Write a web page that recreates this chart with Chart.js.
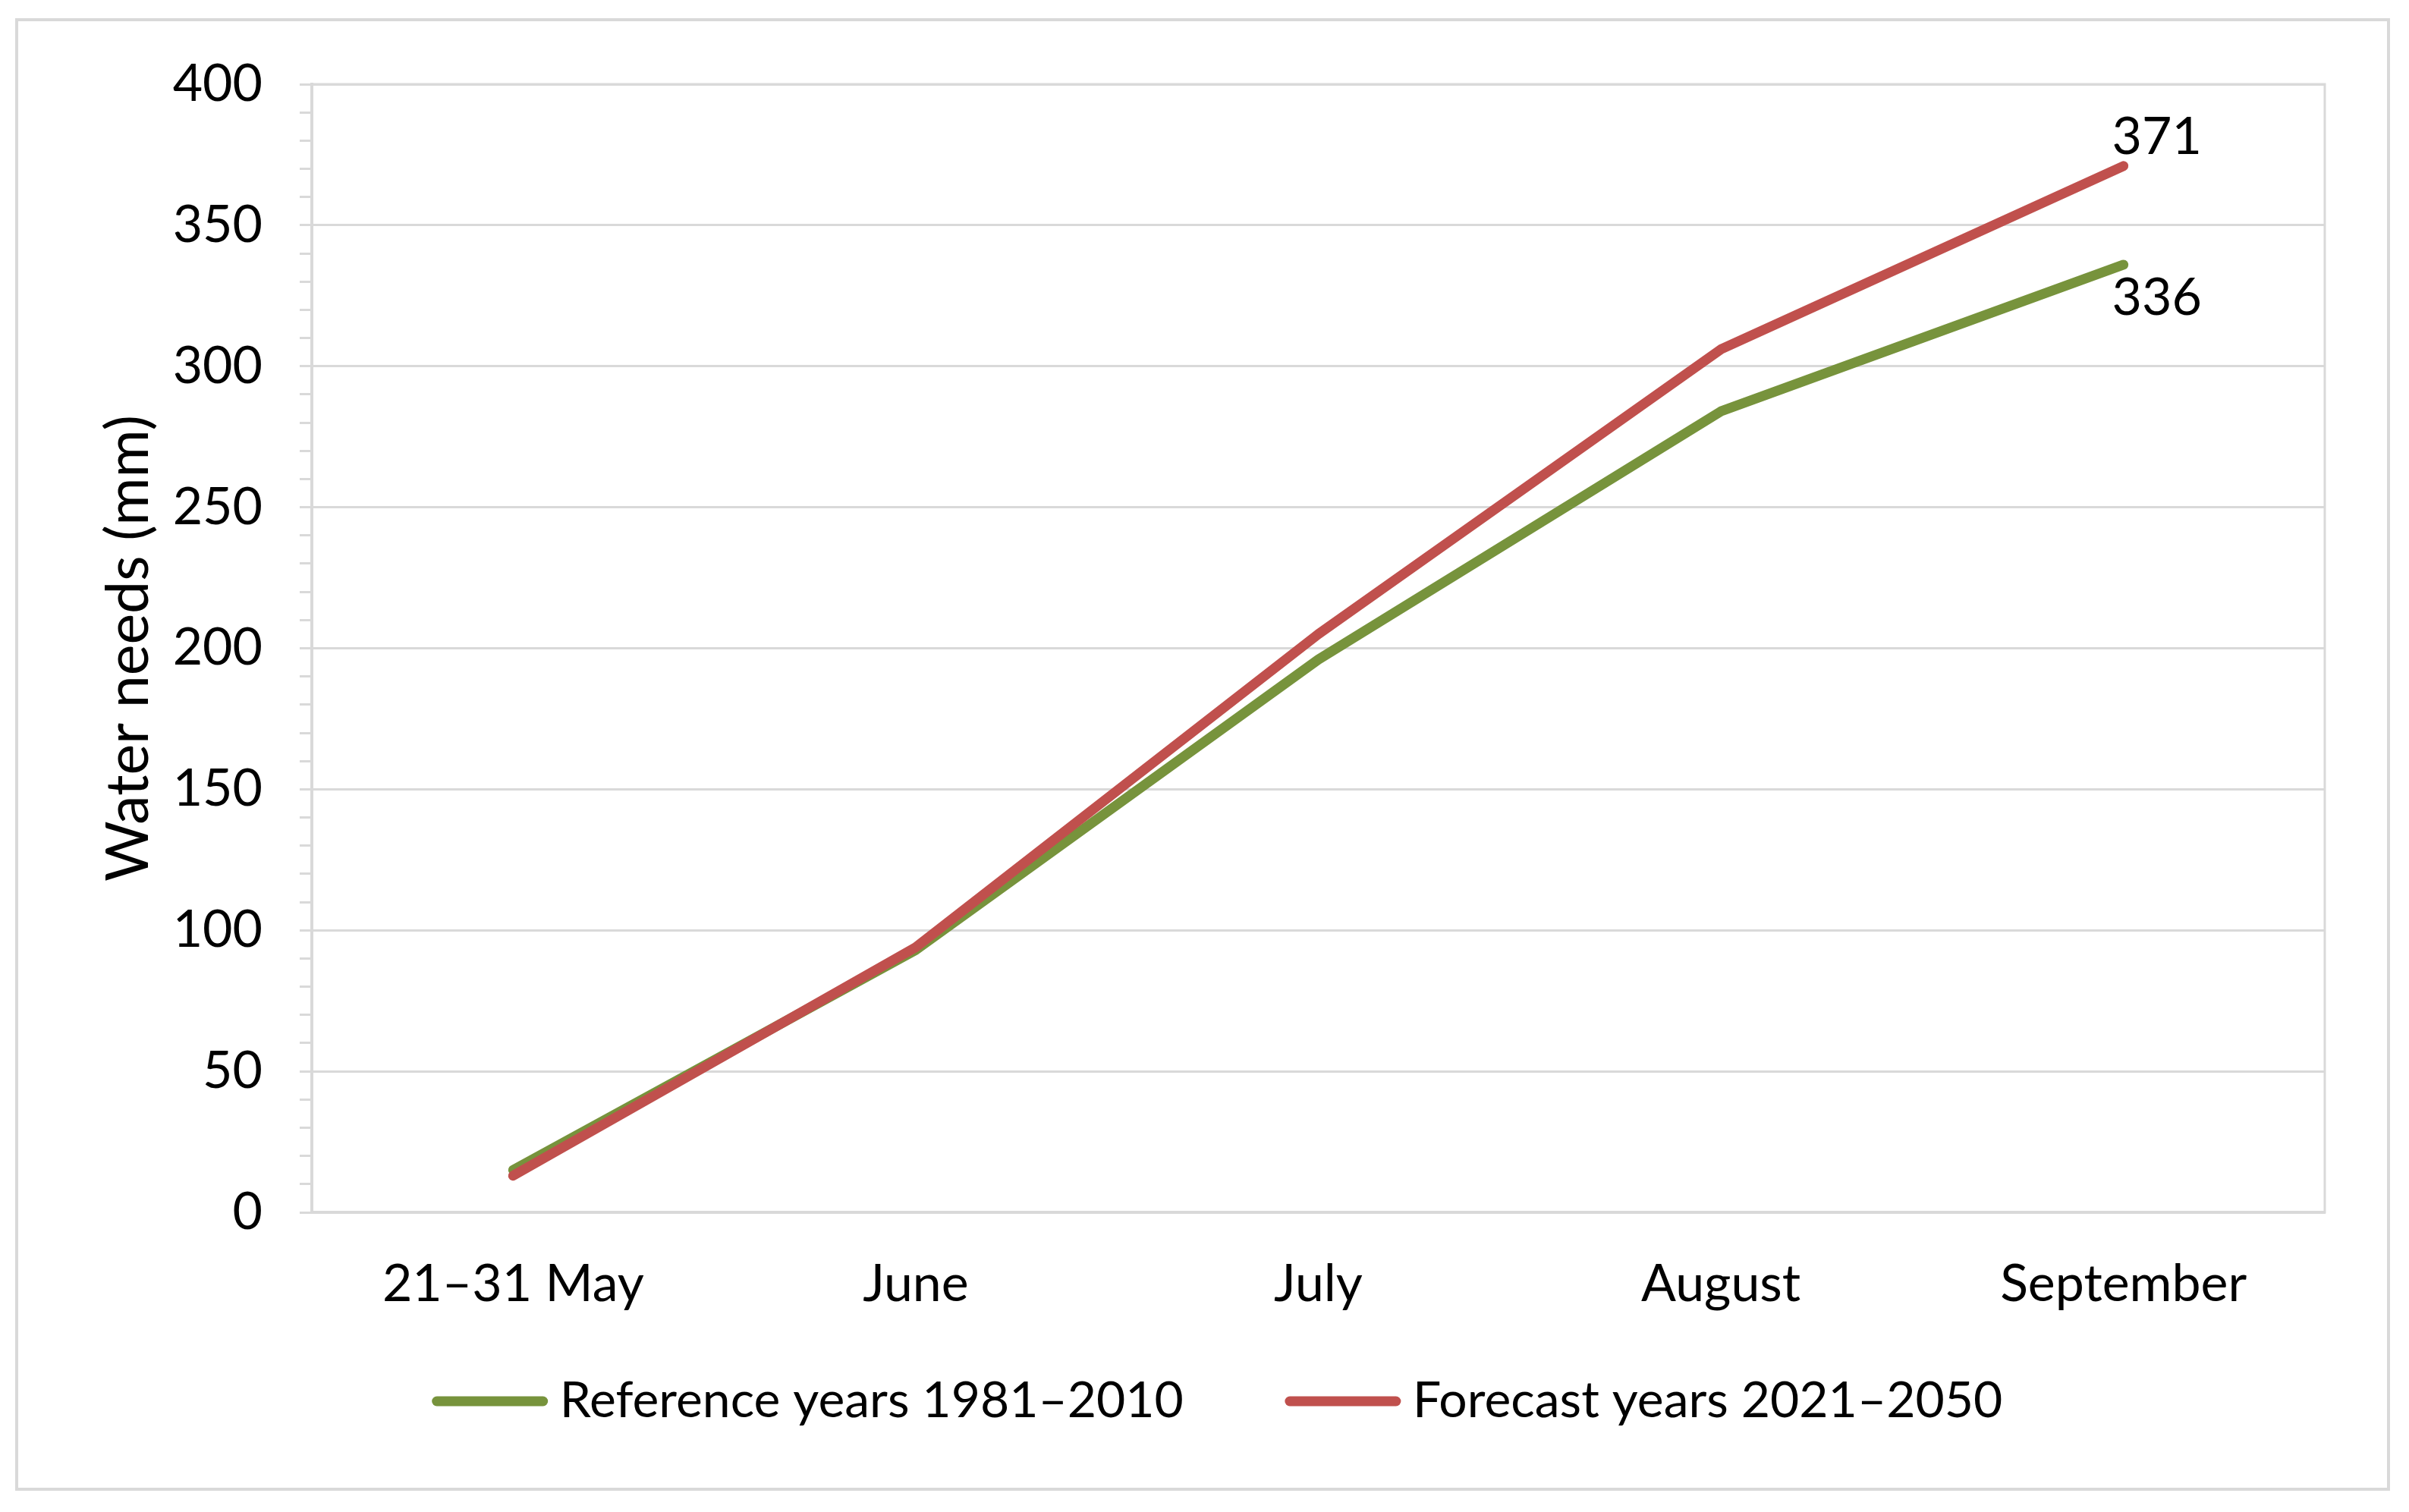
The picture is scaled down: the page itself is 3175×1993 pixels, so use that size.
<!DOCTYPE html>
<html>
<head>
<meta charset="utf-8">
<script src="https://cdn.jsdelivr.net/npm/chart.js@4.4.1/dist/chart.umd.min.js"></script>
<style>
  html, body { margin: 0; padding: 0; background: #fff; }
  #wrap { position: relative; width: 3175px; height: 1993px; }
  #frame { position: absolute; left: 20px; top: 24px; width: 3122px; height: 1933px;
           border: 4px solid #d9d9d9; pointer-events: none; }
</style>
</head>
<body>
<div id="wrap">
  <canvas id="chart"></canvas>
  <div id="frame"></div>
</div>
<script>
/* Water needs per period, mm */
const periods = ['21–31 May', 'June', 'July', 'August', 'September'];
const referenceYears = [15, 93, 196, 284, 336];
const forecastYears = [13, 94, 205, 306, 371];
const seriesNames = ['Reference years 1981–2010', 'Forecast years 2021–2050'];
const yMin = 0, yMax = 400, yMajor = 50, yMinor = 10;

const GREEN = '#77933C', RED = '#C0504D', GRID = '#d9d9d9';
const FONT = 'Lato, "Open Sans", sans-serif';
Chart.defaults.font.family = FONT;
Chart.defaults.color = '#000';

/* plot-area frame, end-of-line value labels, Excel-style legend */
const extras = {
  id: 'extras',
  beforeDatasetsDraw(chart) {
    const { ctx, chartArea: a } = chart;
    ctx.save();
    ctx.strokeStyle = GRID;
    ctx.lineWidth = 3;
    ctx.strokeRect(a.left, a.top, a.right - a.left, a.bottom - a.top);
    ctx.restore();
  },
  afterDatasetsDraw(chart) {
    const { ctx } = chart;
    ctx.save();
    ctx.font = '68px ' + FONT;
    ctx.fillStyle = '#000';
    ctx.textAlign = 'center';
    ctx.textBaseline = 'middle';
    chart.data.datasets.forEach((ds, i) => {
      const pts = chart.getDatasetMeta(i).data;
      const p = pts[pts.length - 1];
      const dy = i === 1 ? -38 : 44;
      ctx.fillText(String(ds.data[ds.data.length - 1]), p.x + 44, p.y + dy);
    });
    ctx.restore();
  },
  afterDraw(chart) {
    const { ctx } = chart;
    const sample = 152, gapText = 16, gapItem = 134, y = 1847;
    ctx.save();
    ctx.font = '66px ' + FONT;
    ctx.textBaseline = 'middle';
    ctx.textAlign = 'left';
    const items = chart.data.datasets.map(ds => ({ text: ds.label, color: ds.borderColor, w: ctx.measureText(ds.label).width }));
    const total = items.reduce((s, it) => s + sample + gapText + it.w, 0) + gapItem * (items.length - 1);
    let x = chart.width / 2 - total / 2 + 17;
    items.forEach(it => {
      ctx.strokeStyle = it.color;
      ctx.lineWidth = 13;
      ctx.lineCap = 'round';
      ctx.beginPath();
      ctx.moveTo(x + 6, y);
      ctx.lineTo(x + sample - 6, y);
      ctx.stroke();
      ctx.fillStyle = '#000';
      ctx.fillText(it.text, x + sample + gapText, y);
      x += sample + gapText + it.w + gapItem;
    });
    ctx.restore();
  }
};

new Chart(document.getElementById('chart'), {
  type: 'line',
  data: {
    labels: periods,
    datasets: [
      { label: seriesNames[0], data: referenceYears, borderColor: GREEN, backgroundColor: GREEN, order: 1 },
      { label: seriesNames[1], data: forecastYears, borderColor: RED, backgroundColor: RED, order: 0 },
    ]
  },
  options: {
    responsive: true,
    maintainAspectRatio: false,
    devicePixelRatio: 1,
    animation: false,
    elements: {
      line: { borderWidth: 13, tension: 0, borderCapStyle: 'round', borderJoinStyle: 'round' },
      point: { radius: 0, hoverRadius: 0 }
    },
    layout: { padding: { left: 0, top: 111, right: 111, bottom: 235 } },
    plugins: {
      legend: { display: false },
      tooltip: { enabled: false }
    },
    scales: {
      x: {
        offset: true,
        grid: { display: false },
        border: { display: true, color: GRID, width: 4 },
        ticks: { padding: 46, font: { size: 68 }, color: '#000' },
        afterFit: s => { s.height = 160; }
      },
      y: {
        min: yMin,
        max: yMax,
        grid: {
          color: c => (c.tick.value % yMajor === 0 ? GRID : 'rgba(0,0,0,0)'),
          tickColor: GRID,
          tickLength: 16,
          lineWidth: 3
        },
        border: { display: true, color: GRID, width: 4 },
        ticks: {
          stepSize: yMinor,
          autoSkip: false,
          padding: 49,
          font: { size: 68 },
          color: '#000',
          callback: v => (v % yMajor === 0 ? v : '')
        },
        title: {
          display: true,
          text: 'Water needs (mm)',
          font: { size: 77 },
          color: '#000',
          padding: { top: 124, bottom: 0 }
        },
        afterFit: s => { s.width = 411; }
      }
    }
  },
  plugins: [extras]
});
</script>
</body>
</html>
